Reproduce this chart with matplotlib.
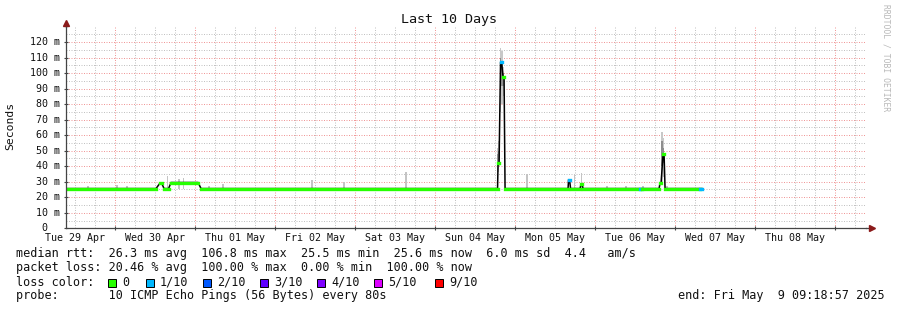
import matplotlib
matplotlib.use('Agg')
import matplotlib.pyplot as plt
from matplotlib.patches import Rectangle
import pandas as pd

# ---- data ----
t_start = '2025-04-29 09:18:57'
t_end = '2025-05-09 09:18:57'

# median rtt as runs of (nearly) constant value [ms], with loss level per run
run_start = ['2025-04-29 09:18:57', '2025-04-30 13:32', '2025-04-30 14:44', '2025-04-30 16:50',
             '2025-05-01 01:50', '2025-05-04 18:56', '2025-05-04 19:41', '2025-05-04 20:26',
             '2025-05-04 21:02', '2025-05-05 16:05', '2025-05-05 16:41', '2025-05-05 19:50',
             '2025-05-05 20:26', '2025-05-06 13:32', '2025-05-06 14:08', '2025-05-06 19:32',
             '2025-05-06 20:26', '2025-05-06 21:02', '2025-05-07 07:32']
run_end = ['2025-04-30 12:20', '2025-04-30 13:59', '2025-04-30 16:05', '2025-05-01 00:56',
           '2025-05-04 18:47', '2025-05-04 19:14', '2025-05-04 19:59', '2025-05-04 20:44',
           '2025-05-05 15:56', '2025-05-05 16:23', '2025-05-05 19:32', '2025-05-05 20:08',
           '2025-05-06 13:32', '2025-05-06 14:08', '2025-05-06 19:14', '2025-05-06 19:50',
           '2025-05-06 20:44', '2025-05-07 07:32', '2025-05-07 08:08']
run_median = [25.6, 29.2, 25.6, 29.5, 25.6, 42.0, 107.0, 97.5, 25.6, 31.3, 25.6, 28.5,
              25.6, 25.6, 25.6, 29.0, 47.8, 25.6, 25.6]
run_loss = [0, 0, 0, 0, 0, 0, 1, 0, 0, 1, 0, 0, 0, 1, 0, 0, 0, 0, 1]

# smoke (individual ping outliers) [ms]
smoke_time = ['2025-04-29 15:56', '2025-04-30 00:38', '2025-04-30 03:38', '2025-04-30 15:47',
              '2025-04-30 19:14', '2025-04-30 20:35', '2025-05-01 04:14', '2025-05-01 08:26',
              '2025-05-02 11:08', '2025-05-02 20:44', '2025-05-03 15:20', '2025-05-05 03:38',
              '2025-05-05 17:53', '2025-05-05 19:59', '2025-05-06 03:38', '2025-05-06 09:20',
              '2025-05-06 14:26', '2025-05-06 21:38']
smoke_top = [27.0, 28.0, 27.0, 34.0, 31.7, 32.4, 27.0, 28.5, 31.0, 30.0, 36.0, 35.0,
             35.0, 35.6, 27.0, 27.5, 27.5, 27.5]

spike_time = ['2025-05-04 18:50', '2025-05-04 19:14', '2025-05-04 19:38', '2025-05-04 20:02',
              '2025-05-04 20:26', '2025-05-06 20:08', '2025-05-06 20:32']
spike_low = [36.0, 40.0, 75.0, 80.0, 85.0, 29.0, 33.0]
spike_high = [52.0, 56.0, 116.0, 114.0, 104.0, 62.0, 58.0]
spike_dark_low = [40.0, 44.0, 90.0, 92.0, 92.0, 40.0, 42.0]
spike_dark_high = [48.0, 50.0, 110.0, 106.0, 100.0, 56.0, 52.0]

day_labels = ['Tue 29 Apr', 'Wed 30 Apr', 'Thu 01 May', 'Fri 02 May', 'Sat 03 May',
              'Sun 04 May', 'Mon 05 May', 'Tue 06 May', 'Wed 07 May', 'Thu 08 May']
y_ticks = [0, 10, 20, 30, 40, 50, 60, 70, 80, 90, 100, 110, 120]
y_labels = ['0', '10 m', '20 m', '30 m', '40 m', '50 m', '60 m', '70 m', '80 m', '90 m',
            '100 m', '110 m', '120 m']

loss_labels = ['0', '1/10', '2/10', '3/10', '4/10', '5/10', '9/10']
loss_colors = ['#26ff00', '#00b8ff', '#0059ff', '#5e00ff', '#7e00ff', '#dd00ff', '#ff0000']

legend_lines = [
  'median rtt:  26.3 ms avg  106.8 ms max  25.5 ms min  25.6 ms now  6.0 ms sd  4.4   am/s',
  'packet loss: 20.46 % avg  100.00 % max  0.00 % min  100.00 % now',
  'loss color:',
  'probe:       10 ICMP Echo Pings (56 Bytes) every 80s',
]
end_text = 'end: Fri May  9 09:18:57 2025'


def to_dt(vals):
  return pd.to_datetime(vals, format='ISO8601')


# ---- figure ----
W, H = 897, 310
mono = 'DejaVu Sans Mono'
fig = plt.figure(figsize=(W / 100, H / 100), dpi=100, facecolor='white')
x0, x1, y_top, y_bot = 66, 866, 27, 228.3
ax = fig.add_axes([x0 / W, (H - y_bot) / H, (x1 - x0) / W, (y_bot - y_top) / H])
ax.set_facecolor('white')

ts = pd.Timestamp(t_start)
te = pd.Timestamp(t_end)
ax.set_xlim(ts, te)
ax.set_ylim(0, 129.7)

# grid
minor_col, major_col = '#c2c2c2', '#f09898'
dots = (0, (1, 1.5))
for v in range(5, 130, 5):
  ax.axhline(v, color=major_col if v % 10 == 0 else minor_col, lw=0.72, ls=dots, zorder=0.5)
for t in pd.date_range('2025-04-29 12:00', '2025-05-09 06:00', freq='6h'):
  ax.axvline(t, color=major_col if t.hour == 0 else minor_col, lw=0.72, ls=dots, zorder=0.5)

# smoke
bar_w = pd.Timedelta(minutes=30)
st = to_dt(smoke_time)
ax.bar(st, [v - 25.6 for v in smoke_top], bottom=25.6, width=bar_w, color='#c4c4c4',
       lw=0, zorder=1)
spt = to_dt(spike_time)
ax.bar(spt, [h - l for h, l in zip(spike_high, spike_low)], bottom=spike_low, width=bar_w,
       color='#c8c8c8', lw=0, zorder=1)
ax.bar(spt, [h - l for h, l in zip(spike_dark_high, spike_dark_low)], bottom=spike_dark_low,
       width=bar_w, color='#8e8e8e', lw=0, zorder=1.1)

# median: thin black connecting line, then thick loss-coloured runs
rs = to_dt(run_start)
re_ = to_dt(run_end)
bx, by = [], []
for a, b, v in zip(rs, re_, run_median):
  bx += [a, b]
  by += [v, v]
ax.plot(bx, by, color='black', lw=1.1, zorder=2)
for a, b, v, l in zip(rs, re_, run_median, run_loss):
  ax.plot([a, b], [v, v], color=loss_colors[l], lw=2.4, solid_capstyle='projecting', zorder=3)

# axes styling
for s in ['top', 'right']:
  ax.spines[s].set_visible(False)
for s in ['left', 'bottom']:
  ax.spines[s].set_color('#444444')
  ax.spines[s].set_linewidth(0.9)
  ax.spines[s].set_zorder(4)
ax.plot([1, 1.006], [0, 0], transform=ax.transAxes, color='#444444', lw=0.9, clip_on=False)
ax.plot([0, 0], [1, 1.02], transform=ax.transAxes, color='#444444', lw=0.9, clip_on=False)
ax.plot([1.007], [0], marker='>', ms=4, color='#8b1a1a', transform=ax.transAxes, clip_on=False)
ax.plot([0], [1.02], marker='^', ms=4, color='#8b1a1a', transform=ax.transAxes, clip_on=False)

noons = pd.date_range('2025-04-29 12:00', periods=len(day_labels), freq='D')
ax.set_xticks(noons, day_labels)
ax.tick_params(axis='x', length=0, pad=3.2, labelsize=7.2, labelcolor='#111111')
for lab in ax.get_xticklabels():
  lab.set_family(mono)

ax.set_yticks(y_ticks, [''] * len(y_ticks))
ax.tick_params(axis='y', length=3, width=0.8, direction='inout', color='#444444')
ax.set_xticks(pd.date_range('2025-04-30', '2025-05-09', freq='D'), minor=True)
ax.tick_params(axis='x', which='minor', length=3, width=0.8, direction='inout', color='#444444')
for v, lab in zip(y_ticks, y_labels):
  xr = -19 / (x1 - x0) if lab == '0' else -6 / (x1 - x0)
  ax.text(xr, v, lab, transform=ax.get_yaxis_transform(), ha='right', va='center',
          family=mono, fontsize=7.2, color='#111111')

# titles and labels
fig.text(448.5 / W, 1 - 19 / H, 'Last 10 Days', ha='center', va='center', family=mono,
         fontsize=9.6, color='#111111')
fig.text(10 / W, 1 - 126 / H, 'Seconds', rotation=90, ha='center', va='center', family=mono,
         fontsize=8.2, color='#111111')
fig.text(886 / W, 1 - 4 / H, 'RRDTOOL / TOBI OETIKER', rotation=-90, ha='center', va='top',
         family=mono, fontsize=5.8, color='#b8b8b8')

# legend block
for i, line in enumerate(legend_lines):
  fig.text(16 / W, 1 - (254 + 14 * i) / H, line, ha='left', va='center', family=mono,
           fontsize=8.5, color='#111111')
fig.text(678 / W, 1 - 296 / H, end_text, ha='left', va='center', family=mono,
         fontsize=8.5, color='#111111')
box_x = [108, 146, 203, 260, 317, 374, 435]
for bxp, lab, col in zip(box_x, loss_labels, loss_colors):
  fig.patches.append(Rectangle((bxp / W, 1 - 286.5 / H), 8 / W, 8 / H, transform=fig.transFigure,
                               facecolor=col, edgecolor='black', lw=0.7))
  fig.text((bxp + 14) / W, 1 - 282 / H, lab, ha='left', va='center', family=mono,
           fontsize=8.5, color='#111111')

fig.savefig('out.png', dpi=100, facecolor='white')
